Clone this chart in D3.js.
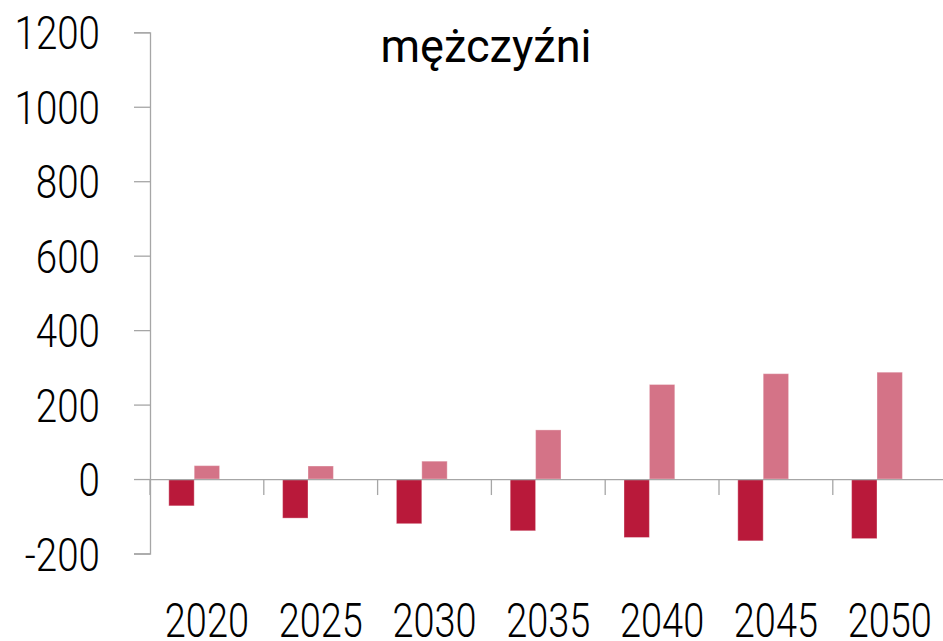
<!DOCTYPE html>
<html>
<head>
    <meta charset="utf-8">
    <script src="https://d3js.org/d3.v7.min.js"></script>
    <style>
        body { margin: 0; background: #fff; }
        svg { display: block; }
        text { font-family: Roboto, "Open Sans", sans-serif; fill: #000; }
    </style>
</head>
<body>
    <script>
        // dane
        var years = ["2020", "2025", "2030", "2035", "2040", "2045", "2050"];
        var seria1 = [-72, -105, -120, -139, -157, -166, -160];
        var seria2 = [36, 35, 48, 132, 254, 283, 287];
        var yTicks = [-200, 0, 200, 400, 600, 800, 1000, 1200];
        var title = "mężczyźni";

        var W = 943, H = 641;
        var margin = {top: 32.3, left: 150},
            width = 796.6,
            height = 521.2;

        var svg = d3.select("body").append("svg")
            .attr("width", W)
            .attr("height", H);

        var g = svg.append("g")
            .attr("transform", "translate(" + margin.left + "," + margin.top + ")");

        var x0 = d3.scaleBand().domain(years).range([0, width]).padding(0);
        // trzy miejsca w kategorii (trzecia seria pusta, jak w Excelu)
        var x1 = d3.scaleBand().domain([0, 1, 2]).range([0, x0.bandwidth()])
            .paddingInner(0).paddingOuter(0.74);
        var y = d3.scaleLinear().domain([-200, 1200]).range([height, 0]);

        var colors = ["#b9193a", "#d47387"];

        var data = years.map(function(d, i) {
            return {year: d, vals: [seria1[i], seria2[i]]};
        });

        // słupki
        var groups = g.selectAll(".grp")
            .data(data)
          .enter().append("g")
            .attr("class", "grp")
            .attr("transform", function(d) { return "translate(" + x0(d.year) + ",0)"; });

        groups.selectAll("rect")
            .data(function(d) { return d.vals.map(function(v, k) { return {k: k, v: v}; }); })
          .enter().append("rect")
            .attr("x", function(d) { return x1(d.k); })
            .attr("width", x1.bandwidth())
            .attr("y", function(d) { return y(Math.max(0, d.v)); })
            .attr("height", function(d) { return Math.abs(y(d.v) - y(0)); })
            .style("fill", function(d) { return colors[d.k]; })
            .style("stroke", "#fff")
            .style("stroke-opacity", 0.35)
            .style("stroke-width", 1);

        // oś Y
        var yAxis = d3.axisLeft(y).tickValues(yTicks).tickSize(16).tickSizeOuter(16)
            .tickFormat(function(d) { return String(d); });
        var ya = g.append("g").attr("class", "y axis").call(yAxis);
        ya.select(".domain").attr("stroke", "#a6a6a6").attr("stroke-width", 1.3);
        ya.selectAll(".tick line").attr("stroke", "#a6a6a6").attr("stroke-width", 1.3);
        ya.attr("font-size", null).attr("font-family", null);
        ya.selectAll(".tick text")
            .attr("x", null)
            .attr("dy", "0.355em")
            .attr("text-anchor", "end")
            .attr("transform", "translate(-50,0) scale(0.82,1)")
            .style("font-size", "47px")
            .style("font-weight", 300);

        // oś X (na wysokości zera)
        var xAxis = d3.axisBottom(x0).tickSize(0).tickSizeOuter(0);
        var xa = g.append("g")
            .attr("class", "x axis")
            .attr("transform", "translate(0," + y(0) + ")")
            .call(xAxis);
        xa.select(".domain").attr("stroke", "#a6a6a6").attr("stroke-width", 1.3);
        xa.attr("font-size", null).attr("font-family", null);
        xa.selectAll(".tick text")
            .attr("y", 157.5)
            .attr("dy", 0)
            .attr("transform", "scale(0.79,1)")
            .style("font-size", "48px")
            .style("font-weight", 300);

        // kreski między kategoriami
        xa.selectAll(".sep")
            .data(years)
          .enter().append("line")
            .attr("class", "sep")
            .attr("x1", function(d) { return x0(d); })
            .attr("x2", function(d) { return x0(d); })
            .attr("y1", 0)
            .attr("y2", 16)
            .attr("stroke", "#a6a6a6")
            .attr("stroke-width", 1.3);

        // tytuł
        svg.append("text")
            .attr("x", 486)
            .attr("y", 61.7)
            .attr("text-anchor", "middle")
            .attr("transform", "translate(486,0) scale(0.96,1) translate(-486,0)")
            .style("font-size", "47px")
            .text(title);
    </script>
</body>
</html>
